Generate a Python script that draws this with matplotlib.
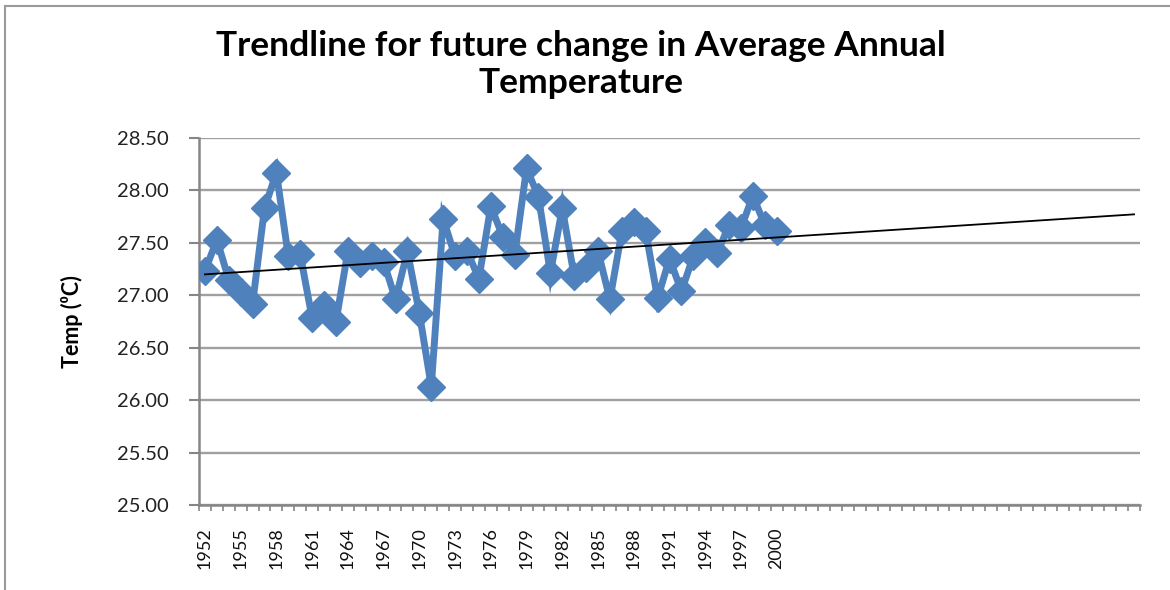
import matplotlib.pyplot as plt
import numpy as np
from matplotlib.patches import Rectangle

# Average annual temperature (deg C), 1952-2000
years = list(range(1952, 2001))
temps = [27.23, 27.53, 27.15, 27.03, 26.92, 27.83, 28.17, 27.37, 27.39, 26.78,
         26.91, 26.75, 27.42, 27.31, 27.37, 27.32, 26.96, 27.42, 26.83, 26.13,
         27.73, 27.37, 27.42, 27.16, 27.85, 27.56, 27.38, 28.21, 27.94, 27.21,
         27.83, 27.18, 27.26, 27.42, 26.96, 27.61, 27.70, 27.61, 26.97, 27.35,
         27.04, 27.37, 27.51, 27.40, 27.67, 27.64, 27.95, 27.67, 27.61]
forecast_periods = 30  # trendline extended forward
y_ticks = [25.0, 25.5, 26.0, 26.5, 27.0, 27.5, 28.0, 28.5]
label_step = 3

title = "Trendline for future change in Average Annual\nTemperature"
ylabel = "Temp (\u2070C)"

blue = "#4F81BD"
grid_grey = "#A0A0A0"
axis_grey = "#868686"
font = ["Lato", "DejaVu Sans"]

n = len(years)
idx = np.arange(n)
n_total = n + forecast_periods

fig = plt.figure(figsize=(11.7, 5.9), dpi=100)
ax = fig.add_axes([199 / 1170, 1 - 505 / 590, 941 / 1170, 367 / 590])

# chart-area border
fig.patches.append(Rectangle((0.004, -0.05), 1.2, 1.04, transform=fig.transFigure,
                             fill=False, edgecolor="#9a9a9a", lw=1.5))

ax.plot(idx, temps, color=blue, lw=5, marker="D", markersize=14,
        markerfacecolor=blue, markeredgecolor=blue, solid_joinstyle="miter", zorder=3)

# linear trendline with forward forecast
slope, intercept = np.polyfit(idx, temps, 1)
trend_x = np.array([0, n_total - 1])
ax.plot(trend_x, intercept + slope * trend_x, color="black", lw=1.3, zorder=4)

ax.set_xlim(-0.5, n_total - 0.5)
ax.set_ylim(y_ticks[0], y_ticks[-1])
ax.set_yticks(y_ticks)
ax.set_yticklabels([f"{v:.2f}" for v in y_ticks], fontsize=14.5, family=font, color="#222222")
ax.yaxis.grid(True, color=grid_grey, lw=1.7)
ax.set_axisbelow(True)
ax.tick_params(axis="y", length=7, width=1.5, color=axis_grey, pad=15)

# category boundary tick marks, year labels every third category
ax.set_xticks(np.arange(-0.5, n_total, 1.0))
ax.set_xticklabels([])
ax.tick_params(axis="x", which="major", length=4, width=1.2, color=axis_grey)
label_idx = idx[::label_step]
ax.set_xticks(label_idx, minor=True)
ax.set_xticklabels([str(years[i]) for i in label_idx], minor=True, rotation=90,
                   fontsize=13, family=font, color="#111111")
ax.tick_params(axis="x", which="minor", length=0, pad=16)

for side in ("top", "right"):
    ax.spines[side].set_visible(False)
for side in ("left", "bottom"):
    ax.spines[side].set_color(axis_grey)
    ax.spines[side].set_linewidth(1.8)

ax.set_ylabel(ylabel, fontsize=15.5, fontweight="bold", family=font, labelpad=24)
fig.text(0.4966, 0.95, title, ha="center", va="top", fontsize=25.5, fontweight="bold",
         family=font, linespacing=1.2)

fig.savefig("out.png", dpi=100)
